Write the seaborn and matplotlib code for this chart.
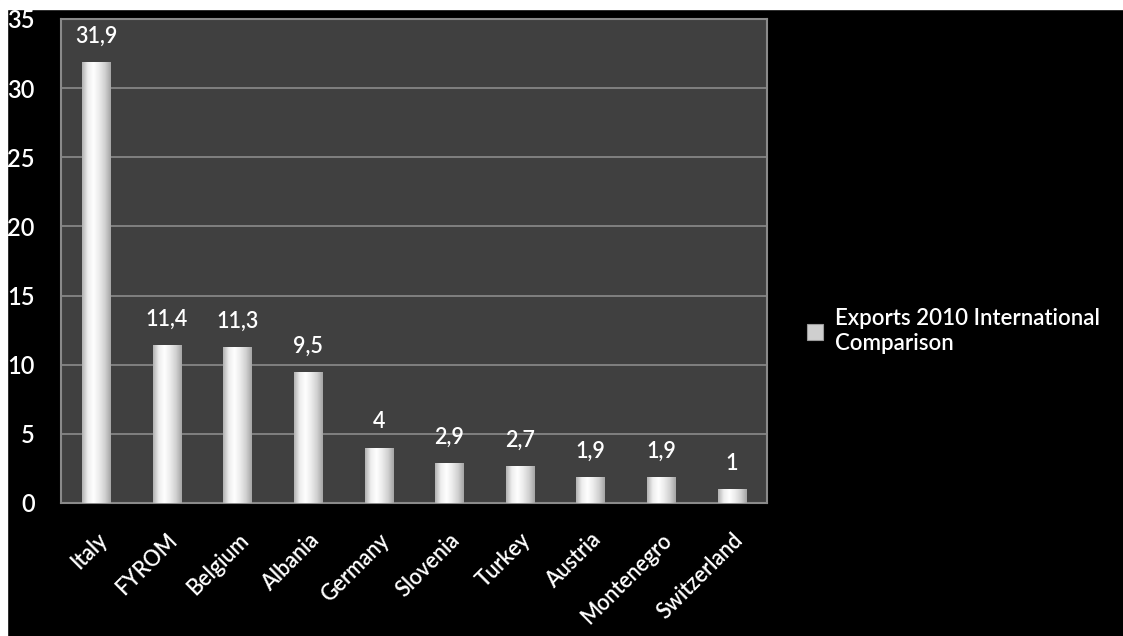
import numpy as np
import pandas as pd
import matplotlib
matplotlib.use("Agg")
import matplotlib.pyplot as plt
from matplotlib.patches import Patch, Rectangle
from matplotlib.colors import LinearSegmentedColormap
import seaborn as sns

countries = ["Italy", "FYROM", "Belgium", "Albania", "Germany",
             "Slovenia", "Turkey", "Austria", "Montenegro", "Switzerland"]
exports = [31.9, 11.4, 11.3, 9.5, 4.0, 2.9, 2.7, 1.9, 1.9, 1.0]
series_name = "Exports 2010 International\nComparison"
y_ticks = [0, 5, 10, 15, 20, 25, 30, 35]

df = pd.DataFrame({"country": countries, "value": exports})

sns.set_theme(style="dark")
plt.rcParams["font.family"] = ["Lato", "DejaVu Sans"]
plt.rcParams["font.weight"] = "semibold"

fig = plt.figure(figsize=(11.23, 6.36), dpi=100, facecolor="black")
ax = fig.add_axes([61 / 1123, 133 / 636, 706 / 1123, 484 / 636])
ax.set_facecolor("#404040")

sns.barplot(data=df, x="country", y="value", ax=ax, width=0.4,
            color="#f0f0f0", saturation=1, edgecolor="none", zorder=3)

ax.set_ylim(0, 35)
ax.set_xlim(-0.5, len(countries) - 0.5)
ax.set_yticks(y_ticks)
ax.yaxis.grid(True, color="#808080", linewidth=1.4, zorder=0)
ax.xaxis.grid(False)
ax.set_xlabel("")
ax.set_ylabel("")

# cylindrical shading across each bar
shade = LinearSegmentedColormap.from_list(
    "shade", ["#b0b0b0", "#eeeeee", "#ffffff", "#ebebeb", "#d0d0d0", "#a4a4a4"])
grad = np.linspace(0, 1, 256).reshape(1, -1)
for p in list(ax.patches):
    x0, y0 = p.get_x(), p.get_y()
    w, h = p.get_width(), p.get_height()
    im = ax.imshow(grad, extent=[x0, x0 + w, y0, y0 + h], aspect="auto",
                   cmap=shade, zorder=3.5, interpolation="bicubic")
    im.set_clip_path(p)
ax.set_ylim(0, 35)
ax.set_xlim(-0.5, len(countries) - 0.5)

labels = [f"{v:g}".replace(".", ",") for v in exports]
ax.bar_label(ax.containers[0], labels=labels, padding=11, color="white",
             fontsize=15.5, zorder=5)

for s in ["left", "bottom", "top", "right"]:
    ax.spines[s].set_visible(True)
    ax.spines[s].set_color("#8a8a8a")
    ax.spines[s].set_linewidth(1.5)

ax.tick_params(axis="y", colors="white", labelsize=17, length=0, pad=19)
ax.tick_params(axis="x", colors="white", labelsize=15.5, length=0, pad=19)
plt.setp(ax.get_xticklabels(), rotation=45, ha="right",
         rotation_mode="anchor")

handle = Patch(facecolor="#cfcfcf", edgecolor="#9a9a9a", linewidth=0.8)
leg = fig.legend(handles=[handle], labels=[series_name], loc="upper left",
                 bbox_to_anchor=(787 / 1123, 1 - 288 / 636), frameon=False,
                 labelcolor="white", fontsize=16, handlelength=0.7,
                 handleheight=0.7, handletextpad=0.55)
for t in leg.get_texts():
    t.set_linespacing(1.25)

# white margin strips along the top and left edges
fig.add_artist(Rectangle((0, 1 - 9 / 636), 1, 9 / 636,
                         transform=fig.transFigure, color="white", zorder=10))
fig.add_artist(Rectangle((0, 0), 7 / 1123, 1,
                         transform=fig.transFigure, color="white", zorder=10))

fig.savefig("out.png", dpi=100, facecolor="black")
